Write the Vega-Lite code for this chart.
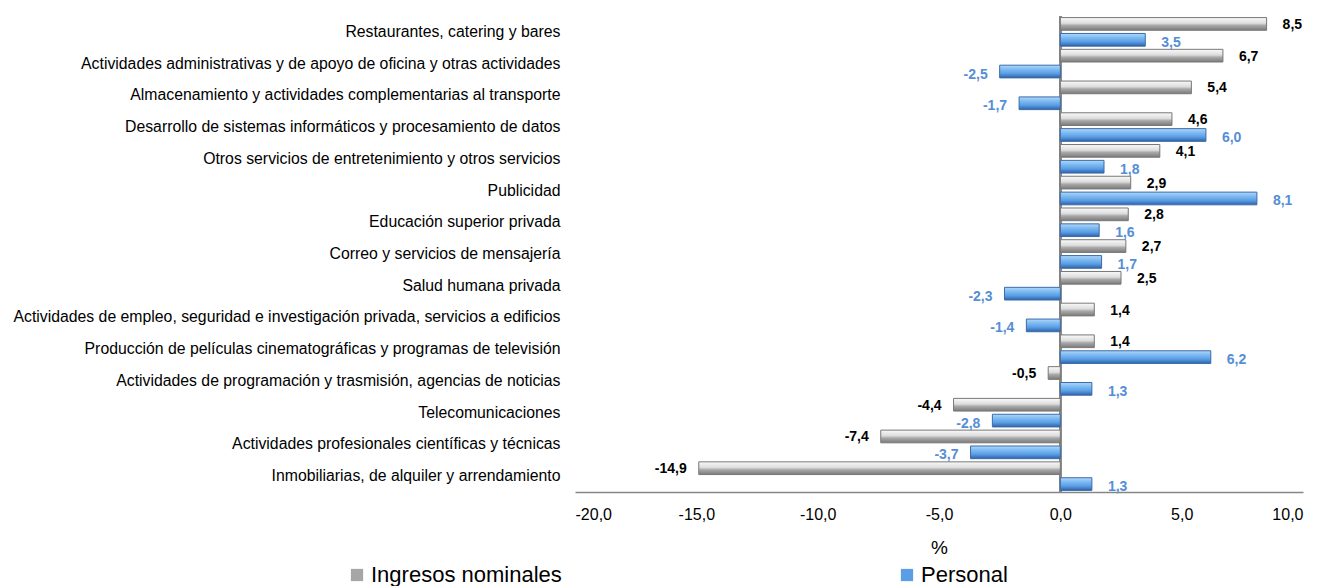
{
  "$schema": "https://vega.github.io/schema/vega-lite/v6.json",
  "autosize": {"type": "none"},
  "padding": {"left": 575, "top": 16, "right": 21, "bottom": 94},
  "width": 728,
  "height": 476,
  "background": "#ffffff",
  "config": {
    "font": "Liberation Sans",
    "view": {"stroke": null},
    "locale": {"number": {"decimal": ",", "thousands": ".", "grouping": [3], "currency": ["", " €"], "minus": "-"}}
  },
  "data": {
    "values": [
      {"cat": "Restaurantes, catering y bares", "serie": "Ingresos nominales", "value": 8.5},
      {"cat": "Restaurantes, catering y bares", "serie": "Personal", "value": 3.5},
      {"cat": "Actividades administrativas y de apoyo de oficina y otras actividades", "serie": "Ingresos nominales", "value": 6.7},
      {"cat": "Actividades administrativas y de apoyo de oficina y otras actividades", "serie": "Personal", "value": -2.5},
      {"cat": "Almacenamiento y actividades complementarias al transporte", "serie": "Ingresos nominales", "value": 5.4},
      {"cat": "Almacenamiento y actividades complementarias al transporte", "serie": "Personal", "value": -1.7},
      {"cat": "Desarrollo de sistemas informáticos y procesamiento de datos", "serie": "Ingresos nominales", "value": 4.6},
      {"cat": "Desarrollo de sistemas informáticos y procesamiento de datos", "serie": "Personal", "value": 6.0},
      {"cat": "Otros servicios de entretenimiento y otros servicios", "serie": "Ingresos nominales", "value": 4.1},
      {"cat": "Otros servicios de entretenimiento y otros servicios", "serie": "Personal", "value": 1.8},
      {"cat": "Publicidad", "serie": "Ingresos nominales", "value": 2.9},
      {"cat": "Publicidad", "serie": "Personal", "value": 8.1},
      {"cat": "Educación superior privada", "serie": "Ingresos nominales", "value": 2.8},
      {"cat": "Educación superior privada", "serie": "Personal", "value": 1.6},
      {"cat": "Correo y servicios de mensajería", "serie": "Ingresos nominales", "value": 2.7},
      {"cat": "Correo y servicios de mensajería", "serie": "Personal", "value": 1.7},
      {"cat": "Salud humana privada", "serie": "Ingresos nominales", "value": 2.5},
      {"cat": "Salud humana privada", "serie": "Personal", "value": -2.3},
      {"cat": "Actividades de empleo, seguridad e investigación privada, servicios a edificios", "serie": "Ingresos nominales", "value": 1.4},
      {"cat": "Actividades de empleo, seguridad e investigación privada, servicios a edificios", "serie": "Personal", "value": -1.4},
      {"cat": "Producción de películas cinematográficas y programas de televisión", "serie": "Ingresos nominales", "value": 1.4},
      {"cat": "Producción de películas cinematográficas y programas de televisión", "serie": "Personal", "value": 6.2},
      {"cat": "Actividades de programación y trasmisión, agencias de noticias", "serie": "Ingresos nominales", "value": -0.5},
      {"cat": "Actividades de programación y trasmisión, agencias de noticias", "serie": "Personal", "value": 1.3},
      {"cat": "Telecomunicaciones", "serie": "Ingresos nominales", "value": -4.4},
      {"cat": "Telecomunicaciones", "serie": "Personal", "value": -2.8},
      {"cat": "Actividades profesionales científicas y técnicas", "serie": "Ingresos nominales", "value": -7.4},
      {"cat": "Actividades profesionales científicas y técnicas", "serie": "Personal", "value": -3.7},
      {"cat": "Inmobiliarias, de alquiler y arrendamiento", "serie": "Ingresos nominales", "value": -14.9},
      {"cat": "Inmobiliarias, de alquiler y arrendamiento", "serie": "Personal", "value": 1.3}
    ]
  },
  "encoding": {
    "y": {
      "field": "cat", "type": "nominal", "sort": null,
      "scale": {"paddingInner": 0, "paddingOuter": 0},
      "axis": {"title": null, "domain": false, "ticks": false, "labelPadding": 15, "labelFontSize": 15.8, "labelColor": "#000000", "labelLimit": 0}
    },
    "x": {
      "field": "value", "type": "quantitative",
      "scale": {"domain": [-20, 10], "nice": false, "zero": false},
      "axis": {"title": "%", "values": [-20, -15, -10, -5, 0, 5, 10], "format": ".1f", "grid": false, "ticks": false,
               "domainColor": "#868686", "domainWidth": 1.5, "labelFontSize": 16, "labelColor": "#000000", "labelPadding": 14,
               "titleFontSize": 19, "titleFontWeight": "normal", "titleColor": "#000000", "titlePadding": 16}
    },
    "yOffset": {"field": "serie", "type": "nominal", "scale": {"domain": ["Ingresos nominales", "Personal"], "paddingInner": 0.2, "paddingOuter": 0.1}}
  },
  "layer": [
    {
      "mark": {"type": "rule", "color": "#868686", "strokeWidth": 1.5},
      "encoding": {"x": {"datum": 0}, "y": null, "yOffset": null}
    },
    {
      "transform": [{"filter": "datum.serie === 'Ingresos nominales'"}],
      "mark": {"type": "bar", "stroke": "#777777", "strokeWidth": 1,
        "fill": {"gradient": "linear", "x1": 0, "y1": 0, "x2": 0, "y2": 1,
          "stops": [{"offset": 0, "color": "#fafafa"}, {"offset": 0.45, "color": "#dcdcdc"}, {"offset": 0.62, "color": "#a9a9a9"}, {"offset": 1, "color": "#7a7a7a"}]}},
      "encoding": {"x2": {"datum": 0}}
    },
    {
      "transform": [{"filter": "datum.serie === 'Personal'"}],
      "mark": {"type": "bar", "stroke": "#3a6ba8", "strokeWidth": 1,
        "fill": {"gradient": "linear", "x1": 0, "y1": 0, "x2": 0, "y2": 1,
          "stops": [{"offset": 0, "color": "#b3d7f8"}, {"offset": 0.3, "color": "#80bdf2"}, {"offset": 0.65, "color": "#5b9ee6"}, {"offset": 1, "color": "#2f62a6"}]}},
      "encoding": {"x2": {"datum": 0}}
    },
    {
      "transform": [{"filter": "datum.serie === 'Ingresos nominales' && datum.value >= 0"}],
      "mark": {"type": "text", "align": "left", "baseline": "middle", "dx": 16, "dy": 1, "fontWeight": "bold", "fontSize": 14, "color": "#000000"},
      "encoding": {"text": {"field": "value", "type": "quantitative", "format": ".1f"}}
    },
    {
      "transform": [{"filter": "datum.serie === 'Ingresos nominales' && datum.value < 0"}],
      "mark": {"type": "text", "align": "right", "baseline": "middle", "dx": -12, "dy": 1, "fontWeight": "bold", "fontSize": 14, "color": "#000000"},
      "encoding": {"text": {"field": "value", "type": "quantitative", "format": ".1f"}}
    },
    {
      "transform": [{"filter": "datum.serie === 'Personal' && datum.value >= 0"}],
      "mark": {"type": "text", "align": "left", "baseline": "middle", "dx": 16, "dy": 3, "fontWeight": "bold", "fontSize": 14, "color": "#558ed5"},
      "encoding": {"text": {"field": "value", "type": "quantitative", "format": ".1f"}}
    },
    {
      "transform": [{"filter": "datum.serie === 'Personal' && datum.value < 0"}],
      "mark": {"type": "text", "align": "right", "baseline": "middle", "dx": -12, "dy": 3, "fontWeight": "bold", "fontSize": 14, "color": "#558ed5"},
      "encoding": {"text": {"field": "value", "type": "quantitative", "format": ".1f"}}
    },
    {
      "transform": [{"filter": "false"}],
      "mark": {"type": "square", "filled": true, "opacity": 1},
      "encoding": {
        "yOffset": null,
        "color": {
          "field": "serie", "type": "nominal",
          "scale": {"domain": ["Ingresos nominales", "Personal"], "range": ["#a6a6a6", "#5b9ee6"]},
          "legend": {"title": null, "orient": "none", "legendX": -229, "legendY": 548, "direction": "horizontal", "columns": 2,
            "columnPadding": 334, "symbolType": "square", "symbolSize": 150, "symbolOpacity": 1, "symbolStrokeWidth": 1,
            "labelFontSize": 22, "labelColor": "#000000", "labelOffset": 3, "labelLimit": 0}
        }
      }
    }
  ]
}
